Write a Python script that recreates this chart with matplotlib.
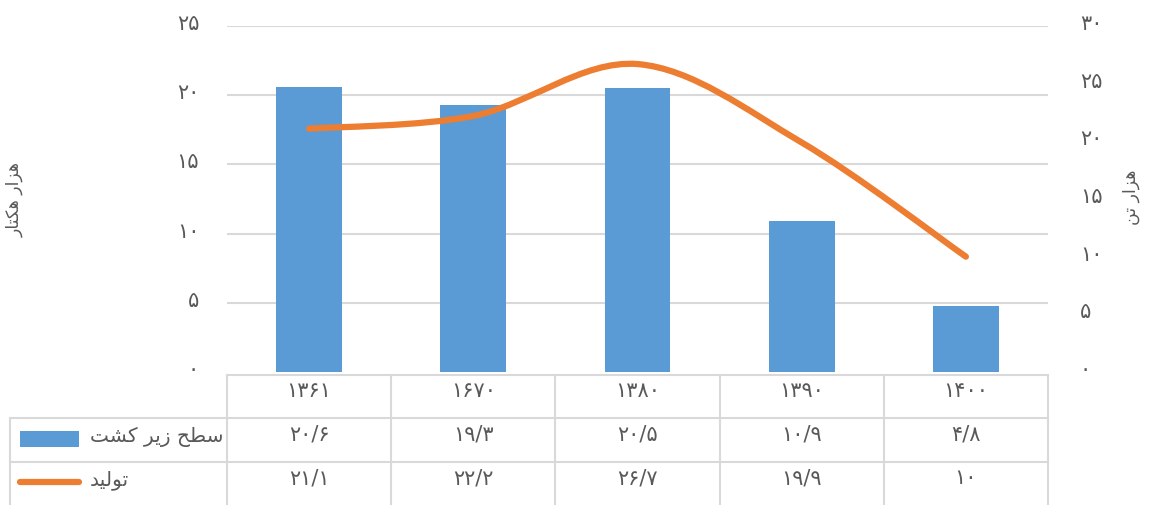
import matplotlib.pyplot as plt
import matplotlib.transforms as mtransforms
from matplotlib.path import Path
from matplotlib.patches import PathPatch, Rectangle

years = ["۱۳۶۱", "۱۶۷۰", "۱۳۸۰", "۱۳۹۰", "۱۴۰۰"]
area = [20.6, 19.3, 20.5, 10.9, 4.8]          # هزار هکتار
production = [21.1, 22.2, 26.7, 19.9, 10]     # هزار تن
left_ticks = [0, 5, 10, 15, 20, 25]
right_ticks = [0, 5, 10, 15, 20, 25, 30]

BLUE = "#5B9BD5"
ORANGE = "#ED7D31"
GRID = "#D9D9D9"
TEXT = "#595959"

FA_DIGITS = str.maketrans("0123456789.", "۰۱۲۳۴۵۶۷۸۹/")


def fa(v):
    return f"{v:g}".translate(FA_DIGITS)


# Arabic presentation forms: isolated, final, initial, medial
FORMS = {
    "س": "\uFEB1\uFEB2\uFEB3\uFEB4",
    "ط": "\uFEC1\uFEC2\uFEC3\uFEC4",
    "ح": "\uFEA1\uFEA2\uFEA3\uFEA4",
    "ز": "\uFEAF\uFEB0",
    "ی": "\uFBFC\uFBFD\uFBFE\uFBFF",
    "ر": "\uFEAD\uFEAE",
    "ک": "\uFB8E\uFB8F\uFB90\uFB91",
    "ش": "\uFEB5\uFEB6\uFEB7\uFEB8",
    "ت": "\uFE95\uFE96\uFE97\uFE98",
    "و": "\uFEED\uFEEE",
    "ل": "\uFEDD\uFEDE\uFEDF\uFEE0",
    "د": "\uFEA9\uFEAA",
    "ه": "\uFEE9\uFEEA\uFEEB\uFEEC",
    "ا": "\uFE8D\uFE8E",
    "ن": "\uFEE5\uFEE6\uFEE7\uFEE8",
}


def shape(text):
    # matplotlib has no bidi/shaping, so join the letters and lay them out right-to-left
    words = []
    for word in text.split(" "):
        glyphs = []
        for i, ch in enumerate(word):
            forms = FORMS[ch]
            joins_prev = i > 0 and len(FORMS[word[i - 1]]) == 4
            joins_next = i < len(word) - 1 and len(forms) == 4
            glyphs.append(forms[int(joins_prev) + 2 * int(joins_next)])
        words.append("".join(reversed(glyphs)))
    return " ".join(reversed(words))


def smooth_path(xs, ys):
    # Catmull-Rom through the points, as cubic Bezier segments
    pts = list(zip(xs, ys))
    verts = [pts[0]]
    codes = [Path.MOVETO]
    for i in range(len(pts) - 1):
        p0 = pts[max(i - 1, 0)]
        p1 = pts[i]
        p2 = pts[i + 1]
        p3 = pts[min(i + 2, len(pts) - 1)]
        c1 = (p1[0] + (p2[0] - p0[0]) / 6, p1[1] + (p2[1] - p0[1]) / 6)
        c2 = (p2[0] - (p3[0] - p1[0]) / 6, p2[1] - (p3[1] - p1[1]) / 6)
        verts += [c1, c2, p2]
        codes += [Path.CURVE4] * 3
    return Path(verts, codes)


plt.rcParams["font.family"] = ["DejaVu Sans"]

W, H = 1157, 506
fig = plt.figure(figsize=(W / 100, H / 100), dpi=100)

# plot area in pixels
X0, X1 = 227, 1048
Y_TOP, Y_BOT = 27, 373
ax = fig.add_axes([X0 / W, 1 - Y_BOT / H, (X1 - X0) / W, (Y_BOT - Y_TOP) / H])

x = list(range(len(years)))
ax.bar(x, area, width=0.4, color=BLUE, zorder=2)
ax.set_xlim(-0.5, len(years) - 0.5)
ax.set_ylim(0, 25)
ax.set_yticks(left_ticks)
ax.set_yticklabels([fa(t) for t in left_ticks], color=TEXT, fontsize=15)
ax.tick_params(axis="y", length=0, pad=20)
ax.set_xticks([])
ax.yaxis.grid(True, color=GRID, linewidth=1.5, zorder=0)
ax.get_ygridlines()[0].set_visible(False)
ax.set_axisbelow(True)
for s in ax.spines.values():
    s.set_visible(False)

ax2 = ax.twinx()
ax2.set_ylim(0, 30)
ax2.set_yticks(right_ticks)
ax2.set_yticklabels([fa(t) for t in right_ticks], color=TEXT, fontsize=15)
ax2.tick_params(axis="y", length=0, pad=23)
for s in ax2.spines.values():
    s.set_visible(False)
ax2.add_patch(PathPatch(smooth_path(x, production), fill=False, edgecolor=ORANGE,
                        linewidth=4.5, capstyle="round", joinstyle="round", zorder=3))

# nudge the tick numbers up a little off the gridlines
lift = mtransforms.ScaledTranslation(0, 5 / 100, fig.dpi_scale_trans)
for lab in ax.get_yticklabels() + ax2.get_yticklabels():
    lab.set_transform(lab.get_transform() + lift)

fig.text(15 / W, 1 - 200 / H, shape("هزار هکتار"), rotation=90, color=TEXT,
         fontsize=12.5, ha="center", va="center")
fig.text(1131 / W, 1 - 197 / H, shape("هزار تن"), rotation=90, color=TEXT,
         fontsize=12.5, ha="center", va="center")

# data table under the plot, drawn in pixel coordinates
tab = fig.add_axes([0, 0, 1, 1])
tab.set_xlim(0, W)
tab.set_ylim(H, 0)
tab.axis("off")

colw = (X1 - X0) / len(years)
rows = [376, 419, 463, 506]
key_left = 10
line_kw = dict(color=GRID, linewidth=1.5, solid_capstyle="projecting")

tab.plot([X0, X1], [rows[0], rows[0]], **line_kw)
for r in rows[1:3]:
    tab.plot([key_left, X1], [r, r], **line_kw)
tab.plot([key_left, key_left], [rows[1], rows[3] + 2], **line_kw)
for i in range(len(years) + 1):
    cx = X0 + i * colw
    tab.plot([cx, cx], [rows[0], rows[3] + 2], **line_kw)

row_text = [years, [fa(v) for v in area], [fa(v) for v in production]]
for r, labels in enumerate(row_text):
    cy = (rows[r] + rows[r + 1]) / 2 - 6
    for i, lab in enumerate(labels):
        tab.text(X0 + (i + 0.5) * colw, cy, lab, color=TEXT, fontsize=15,
                 ha="center", va="center")

# series keys in the first column
tab.add_patch(Rectangle((20, 432), 59, 16, facecolor=BLUE, edgecolor="none"))
tab.text(90, 437, shape("سطح زیر کشت"), color=TEXT, fontsize=14.5, ha="left", va="center")
tab.plot([20, 79], [483, 483], color=ORANGE, linewidth=4.5, solid_capstyle="round")
tab.text(90, 480, shape("تولید"), color=TEXT, fontsize=14.5, ha="left", va="center")

fig.savefig("out.png", dpi=100)
